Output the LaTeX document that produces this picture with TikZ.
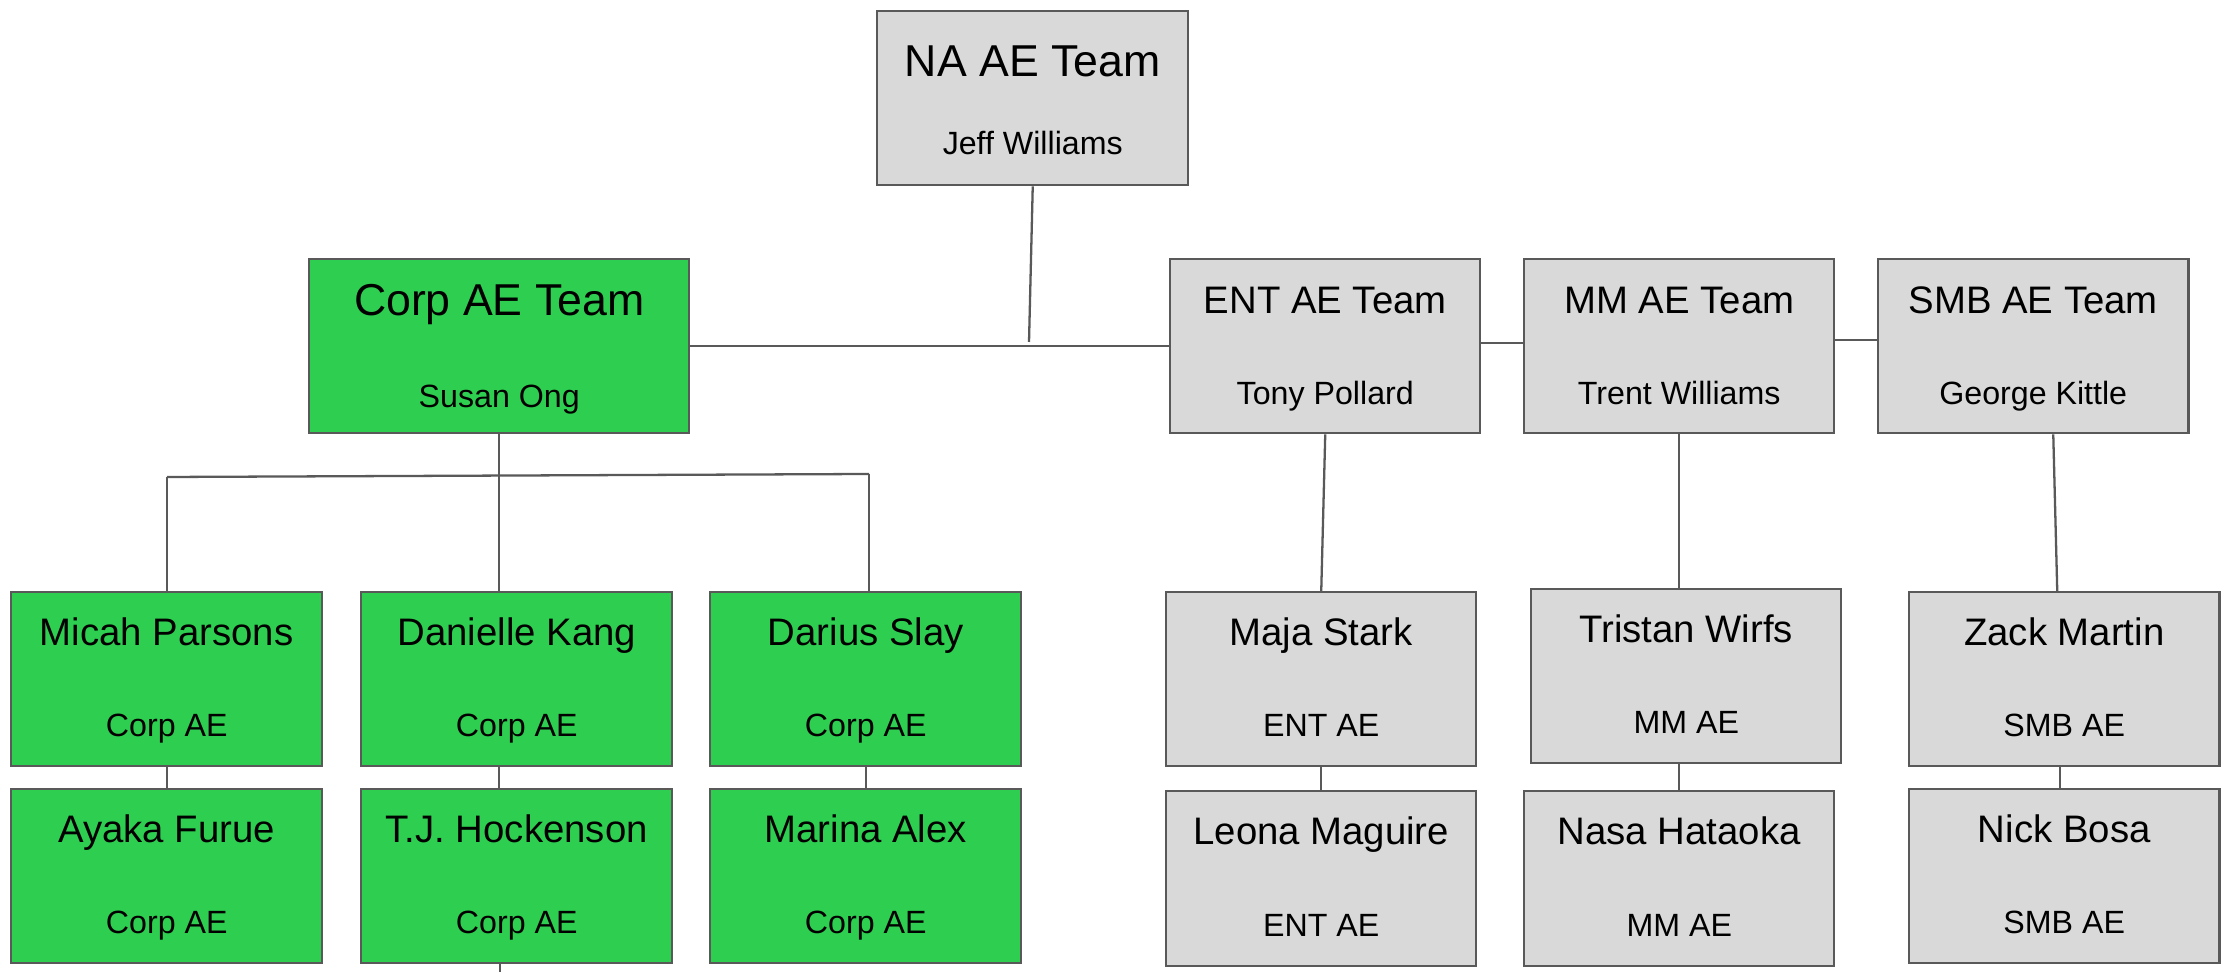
\documentclass[tikz,border=0pt]{standalone}
\usepackage{fontspec}
\setmainfont{Liberation Sans}
\usetikzlibrary{calc}
\definecolor{boxgray}{HTML}{D9D9D9}
\definecolor{boxgreen}{HTML}{2ECF50}
\definecolor{edge}{HTML}{595959}
\tikzset{
  graybox/.style={draw=edge, fill=boxgray, line width=0.7pt, inner sep=0pt, rectangle},
  greenbox/.style={draw=edge, fill=boxgreen, line width=0.7pt, inner sep=0pt, rectangle},
  ttl/.style={anchor=base, inner sep=0pt, font=\fontsize{10.9}{12}\selectfont},
  bigttl/.style={anchor=base, inner sep=0pt, font=\fontsize{12.7}{14}\selectfont},
  sub/.style={anchor=base, inner sep=0pt, font=\fontsize{9.15}{10}\selectfont},
  link/.style={draw=edge, line width=0.65pt}
}
\newcommand\obox[9]{%
  \node[#6, anchor=north west, minimum width={(#4-#2)*0.01cm}, minimum height={(#5-#3)*0.01cm}] (#1) at (#2,#3) {};
  \node[#7] (#1-t) at ($(#1.north)+(0,\toff)$) {#8};
  \node[sub] (#1-s) at ($(#1.north)+(0,\soff)$) {#9};}
\begin{document}
\begin{tikzpicture}[x=0.01cm, y=-0.01cm]
\useasboundingbox (0,0) rectangle (2234,974);
\fill[white] (0,0) rectangle (2234,974);
% top
\def\toff{67}\def\soff{145}
\obox{NA}{876}{10}{1187}{184}{graybox}{bigttl}{NA AE Team}{Jeff Williams}
\def\toff{58}\def\soff{150}
\obox{Corp}{308}{258}{688}{432}{greenbox}{bigttl}{Corp AE Team}{Susan Ong}
\def\toff{56}\def\soff{147}
\obox{ENT}{1169}{258}{1479}{432}{graybox}{ttl}{ENT AE Team}{Tony Pollard}
\obox{MM}{1523}{258}{1833}{432}{graybox}{ttl}{MM AE Team}{Trent Williams}
\obox{SMB}{1877}{258}{2187}{432}{graybox}{ttl}{SMB AE Team}{George Kittle}
% children
\def\toff{55}\def\soff{146}
\obox{Micah}{10}{591}{321}{765}{greenbox}{ttl}{Micah Parsons}{Corp AE}
\obox{Ayaka}{10}{788}{321}{962}{greenbox}{ttl}{Ayaka Furue}{Corp AE}
\obox{Danielle}{360}{591}{671}{765}{greenbox}{ttl}{Danielle Kang}{Corp AE}
\obox{TJ}{360}{788}{671}{962}{greenbox}{ttl}{T.J. Hockenson}{Corp AE}
\obox{Darius}{709}{591}{1020}{765}{greenbox}{ttl}{Darius Slay}{Corp AE}
\obox{Marina}{709}{788}{1020}{962}{greenbox}{ttl}{Marina Alex}{Corp AE}
\obox{Maja}{1165}{591}{1475}{765}{graybox}{ttl}{Maja Stark}{ENT AE}
\obox{Leona}{1165}{790}{1475}{965}{graybox}{ttl}{Leona Maguire}{ENT AE}
\obox{Tristan}{1530}{588}{1840}{762}{graybox}{ttl}{Tristan Wirfs}{MM AE}
\obox{Nasa}{1523}{790}{1833}{965}{graybox}{ttl}{Nasa Hataoka}{MM AE}
\obox{Zack}{1908}{591}{2218}{765}{graybox}{ttl}{Zack Martin}{SMB AE}
\obox{Nick}{1908}{788}{2218}{962}{graybox}{ttl}{Nick Bosa}{SMB AE}
% connectors
\coordinate (j1) at (1029,342);
\coordinate (bl) at (167,477);
\coordinate (br) at (869,474);
\coordinate (stub) at (500,972);
\draw[link] (NA.south) -- (j1);
\draw[link] (Corp.east) -- (ENT.west);
\draw[link] ([yshift=0.03cm]ENT.east) -- ([yshift=0.03cm]MM.west);
\draw[link] ([yshift=0.06cm]MM.east) -- ([yshift=0.06cm]SMB.west);
\draw[link] (Corp.south) -- (Corp.south |- Danielle.north);
\draw[link] (bl) -- (br);
\draw[link] (bl) -- (bl |- Micah.north);
\draw[link] (br) -- (br |- Darius.north);
\draw[link] (Micah.south) -- (Ayaka.north);
\draw[link] (Danielle.south -| Corp.south) -- (TJ.north -| Corp.south);
\draw[link] (TJ.south -| stub) -- (stub);
\draw[link] (Darius.south) -- (Marina.north);
\draw[link] (ENT.south) -- (Maja.north);
\draw[link] (MM.south) -- (MM.south |- Tristan.north);
\draw[link] ([xshift=0.2cm]SMB.south) -- ([xshift=-0.07cm]Zack.north);
\draw[link] (Maja.south) -- (Leona.north);
\draw[link] (Nasa.north |- Tristan.south) -- (Nasa.north);
\draw[link] ([xshift=-0.04cm]Zack.south) -- ([xshift=-0.04cm]Nick.north);
\end{tikzpicture}
\end{document}
